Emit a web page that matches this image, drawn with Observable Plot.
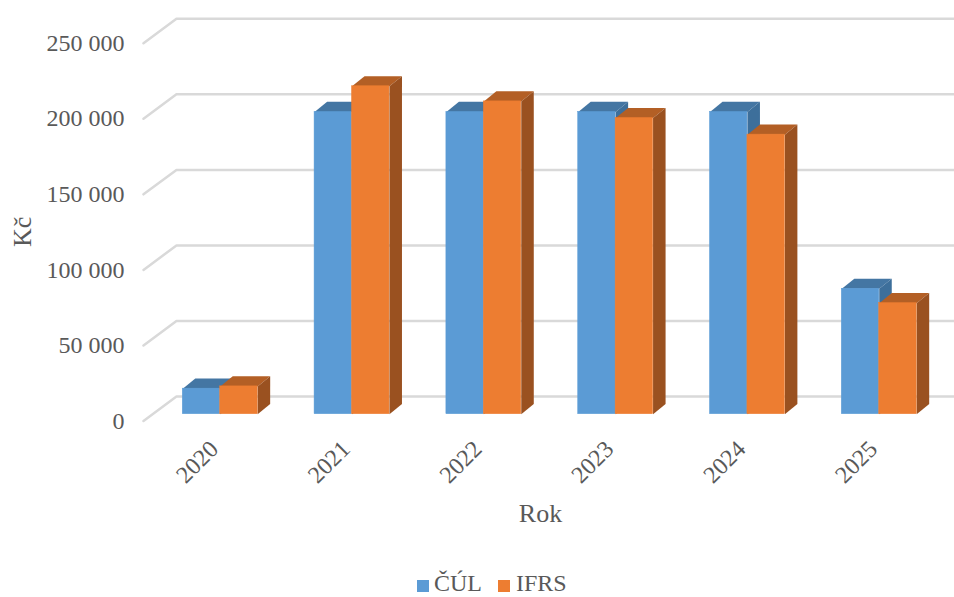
<!DOCTYPE html>
<html lang="cs">
<head>
<meta charset="utf-8">
<script src="https://cdn.jsdelivr.net/npm/d3@7"></script>
<script src="https://cdn.jsdelivr.net/npm/@observablehq/plot@0.6"></script>
<style>
  html, body { margin: 0; padding: 0; background: #fff; overflow: hidden; }
  #legend {
    position: relative; height: 25px;
    font: 24px "Liberation Serif", serif; color: #595959;
  }
  #legend span { position: absolute; top: 0; line-height: 22px; }
  #legend i { position: absolute; top: 8px; width: 12px; height: 12px; }
</style>
</head>
<body>
<div id="chart"></div>
<div id="legend"></div>
<script>
// Values in Kč per year under the two accounting standards
const years = [2020, 2021, 2022, 2023, 2024, 2025];
const cul = [16900, 200000, 200000, 200000, 200000, 83000];
const ifrs = [18400, 217000, 207000, 196000, 185000, 73500];
const yTicks = [0, 50000, 100000, 150000, 200000, 250000];

// Series names and colours: front, top and side faces
const seriesNames = ["ČÚL", "IFRS"];
const frontColors = ["#5b9bd5", "#ed7d31"];
const topColors = ["#4476a3", "#b35f25"];
const sideColors = ["#3d6f9b", "#9a5120"];

// Oblique projection expressed in scale units
const barWidth = 0.284;
const barDepthX = 0.095;
const barDepthY = 6700;
const barBase = 4500;
const wallX = 0.25;
const wallY = 16150;
const xMin = -0.582;
const xMax = 5.571;

const height = 572;

const bars = (values, s) => values.map((v, i) => {
  const x1 = i + (s - 1) * barWidth;
  const x2 = x1 + barWidth;
  return {i, x1, x2, y1: barBase, y2: barBase + v};
});

const face = (rows, corners) =>
  rows.flatMap((b) => corners(b).map(([x, y]) => ({id: b.i, x, y})));

const topFace = (b) => [
  [b.x1, b.y2], [b.x2, b.y2],
  [b.x2 + barDepthX, b.y2 + barDepthY], [b.x1 + barDepthX, b.y2 + barDepthY]
];
const sideFace = (b) => [
  [b.x2, b.y1], [b.x2 + barDepthX, b.y1 + barDepthY],
  [b.x2 + barDepthX, b.y2 + barDepthY], [b.x2, b.y2]
];

// Gridlines run diagonally across the floor plane, then along the back wall
const gridPoints = yTicks.flatMap((t) => [
  {id: t, x: xMin, y: t},
  {id: t, x: xMin + wallX, y: t + wallY},
  {id: t, x: xMax, y: t + wallY}
]);

const barMarks = [cul, ifrs].flatMap((values, s) => {
  const rows = bars(values, s);
  return [
    Plot.line(face(rows, topFace), {x: "x", y: "y", z: "id", fill: topColors[s], stroke: "none", curve: "linear-closed"}),
    Plot.line(face(rows, sideFace), {x: "x", y: "y", z: "id", fill: sideColors[s], stroke: "none", curve: "linear-closed"}),
    Plot.rect(rows, {x1: "x1", x2: "x2", y1: "y1", y2: "y2", fill: frontColors[s], stroke: frontColors[s], strokeWidth: 0.5})
  ];
});

const chart = Plot.plot({
  width: 954,
  height,
  marginTop: 42.7,
  marginBottom: height - 420.5,
  marginLeft: 143,
  marginRight: 0,
  style: {fontFamily: '"Liberation Serif", serif', color: "#595959", background: "#fff", overflow: "visible"},
  x: {domain: [xMin, xMax]},
  y: {domain: [0, 250000]},
  marks: [
    Plot.line(gridPoints, {x: "x", y: "y", z: "id", stroke: "#d9d9d9", strokeWidth: 2.5}),
    ...barMarks,
    Plot.axisY({
      ticks: yTicks,
      tickSize: 0,
      tickPadding: 19,
      fontSize: 24,
      label: null,
      tickFormat: (d) => String(d).replace(/\B(?=(\d{3})+$)/g, "\u00a0")
    }),
    Plot.axisX({
      ticks: d3.range(years.length),
      tickFormat: (i) => String(years[i]),
      tickSize: 0,
      tickRotate: -45,
      tickPadding: 8,
      fontSize: 24,
      label: null,
      dx: -6,
      dy: 16
    }),
    Plot.text(["Kč"], {frameAnchor: "left", dx: -121, dy: 15, rotate: -90, fontSize: 26, fill: "#595959"}),
    Plot.text(["Rok"], {x: () => 2.43, frameAnchor: "bottom", dy: 101, fontSize: 26, fill: "#595959"})
  ]
});
document.getElementById("chart").appendChild(chart);

// Legend under the plot
const legend = document.getElementById("legend");
const legendX = [[417, 434], [498, 516]];
seriesNames.forEach((name, s) => {
  const swatch = document.createElement("i");
  swatch.style.left = legendX[s][0] + "px";
  swatch.style.background = frontColors[s];
  const label = document.createElement("span");
  label.style.left = legendX[s][1] + "px";
  label.textContent = name;
  legend.append(swatch, label);
});
</script>
</body>
</html>
